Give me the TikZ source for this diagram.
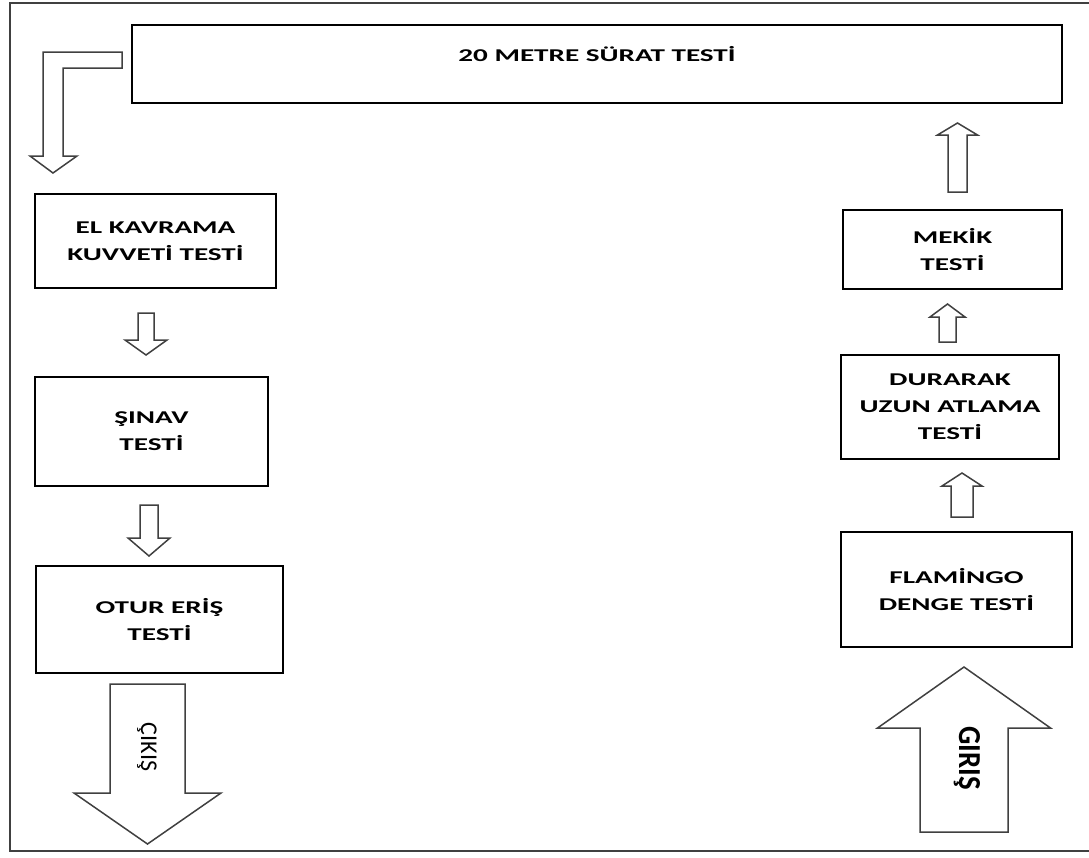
\documentclass[tikz,border=0pt]{standalone}
\usepackage{fontspec}
\setmainfont{Carlito}
\newfontfamily\boxfont[FakeStretch=1.62]{Carlito}
\newfontfamily\girfont[FakeStretch=0.9]{Carlito}
\usetikzlibrary{calc}
\tikzset{%
  testbox/.style={draw=black,line width=2pt,fill=white,align=center,inner sep=2pt,
    font=\boxfont\bfseries\fontsize{18}{27}\selectfont},
  arrline/.style={draw=black!75,line width=1.5pt,fill=white,line join=miter},
  frameline/.style={draw=black!75,line width=2.5pt},
  pics/blockarr/.style n args={4}{code={%
    \draw[arrline] (-#1,0) -- (-#1,{#4-(#3)}) -- (-#2,{#4-(#3)}) -- (0,#4)
      -- (#2,{#4-(#3)}) -- (#1,{#4-(#3)}) -- (#1,0) -- cycle;}}
}

\begin{document}
\begin{tikzpicture}[x=1pt,y=-1pt]
  \useasboundingbox (0,0) rectangle (1089,857);
  \draw[frameline] (10,3) rectangle (1100,851);

  % boxes
  \node[testbox,minimum width=930,minimum height=78,text depth=20pt] (surat) at (597,64) {20 METRE SÜRAT TESTİ};
  \node[testbox,minimum width=241,minimum height=94] (kavrama) at (155.5,241) {EL KAVRAMA\\KUVVETİ TESTİ};
  \node[testbox,minimum width=233,minimum height=109] (sinav) at (151.5,431.5) {ŞINAV\\TESTİ};
  \node[testbox,minimum width=247,minimum height=107] (otur) at (159.5,619.5) {OTUR ERİŞ\\TESTİ};
  \node[testbox,minimum width=219,minimum height=79] (mekik) at (952.5,249.5) {MEKİK\\TESTİ};
  \node[testbox,minimum width=218,minimum height=104] (durarak) at (950,407) {DURARAK\\UZUN ATLAMA\\TESTİ};
  \node[testbox,minimum width=231,minimum height=115] (flamingo) at (956.5,589.5) {FLAMİNGO\\DENGE TESTİ};

  % bent arrow from the top box
  \draw[arrline] (122,52) -- (43,52) -- (43,156) -- (30,156) -- (53,173)
    -- (77,156) -- (63,156) -- (63,68) -- (122,68) -- cycle;

  % left column
  \pic at (146,313) {blockarr={8}{21}{15}{42}};
  \pic at (149,505) {blockarr={9}{21}{18}{51}};
  \pic at (147.5,684) {blockarr={37.5}{73.5}{51}{160}};
  \node[rotate=-90,font=\fontsize{24}{26}\selectfont] (cikis) at (147,747) {ÇIKIŞ};

  % right column
  \pic at (964,832) {blockarr={44}{86.5}{-61}{-165}};
  \node[rotate=-90,font=\girfont\bfseries\fontsize{32}{34}\selectfont] (giris) at (967,758) {GIRIŞ};
  \pic at (962,517) {blockarr={11}{20}{-13}{-44}};
  \pic at (947.5,342) {blockarr={8.5}{17.5}{-13}{-38}};
  \pic at (957.5,192) {blockarr={9.5}{20}{-12}{-69}};
\end{tikzpicture}
\end{document}
